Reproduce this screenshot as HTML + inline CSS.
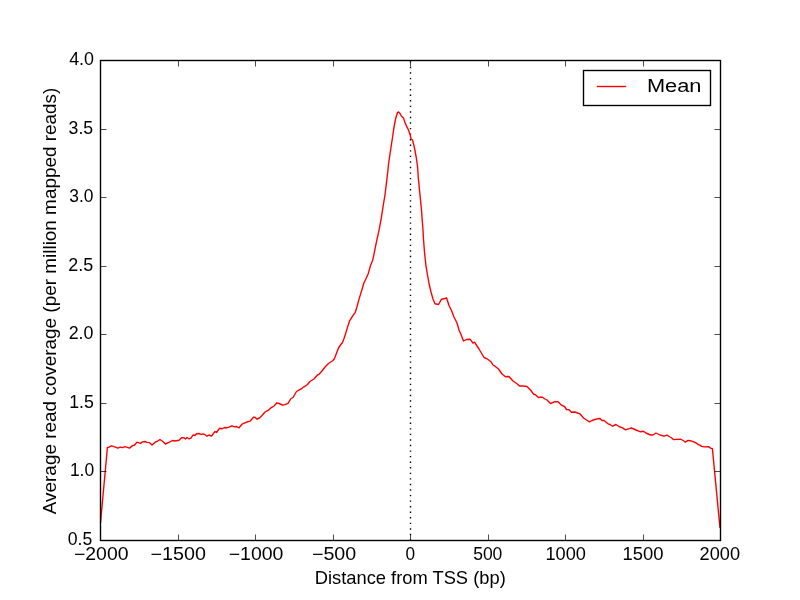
<!DOCTYPE html>
<html><head><meta charset="utf-8"><style>
html,body{margin:0;padding:0;background:#fff;}
svg{display:block;will-change:transform;}
text{font-family:"Liberation Sans",sans-serif;fill:#000;}
</style></head><body>
<svg width="800" height="600" viewBox="0 0 800 600">
<rect width="800" height="600" fill="#fff"/>
<line x1="410.5" y1="60.5" x2="410.5" y2="540.5" stroke="#000" stroke-width="1.39" stroke-dasharray="1.39,4.17" stroke-dashoffset="-0.7"/>
<polyline points="100.5,523 107.4,447.5 108.5,447.4 111.5,445.9 114.1,446.6 117.9,448.1 120.1,447.1 122.4,447.7 125,446.6 129.5,448.1 132.5,445.6 134.4,445.25 137,442.1 140.4,443.4 142.6,441.9 144.9,441.5 147.1,442.4 149.4,442.6 152,445.1 155.8,441.7 157,441.5 160,439.5 162.5,441.2 165.5,444 169,442.3 172.5,440.5 175,441 179,440.2 181.5,437.8 184,437.8 185.5,439 187,437.5 189,438.8 191,438.2 193,435 195,435.5 196.5,433.7 199,433.5 201,434.3 203,433.8 205,434.7 207,436.2 209,435 211.5,436.2 215,431.5 216.5,432.5 219.5,428.3 222,428.8 224.5,427.5 226,428 229,427.2 232,425.8 234.5,426.8 236.5,426.5 239,427.8 242.5,423.8 245,422.8 247,422 250,421.2 253.5,417.2 255,417.2 257,419.2 259.5,418 262,415.5 265,412 268.5,410.2 271,407.8 274,406 277,402.8 279,403.5 282.5,405 285,404.6 288,403.3 291,398.5 293,397.5 296.5,391.5 299,390.2 302,388.3 304,386.8 307.5,384.5 310,381.5 314,379 317.5,375 319,374.3 321.5,371.5 325.5,366.5 328.5,363.5 333,360.5 334.5,358.5 336,354.5 338.5,348 340.5,345 342.5,342.5 344,338.5 345.5,334 347.1,328.6 349.6,320.8 352.7,315.9 355.3,312.3 357,306.7 359.1,298.9 361.5,291.1 363.8,283.3 366.2,278.3 368.3,273.4 370.5,265.6 372.6,260.6 374,254.2 376.4,242.1 379.2,229.4 381.3,218.1 383,206.8 384.9,195.5 386.3,184.1 387.4,175 388.75,162.5 390.6,150 392.5,137.5 393.75,128.75 395.6,118.75 397.5,112.5 398.5,111.9 400,113.5 401.5,116.25 403.5,118.1 405,122.5 406.9,126.9 408.5,130 410,134.4 411,138.75 412.5,140 414.4,147.5 416.25,157.5 417.5,166.25 418.5,180 419.5,190 420.5,200 421.5,210 422.2,220 423,230 423.5,239.2 424.6,253.3 426,266.1 427.7,276 429.2,284.5 431,292 433,299 435,303.8 438.5,304.5 441.5,299.2 444,298.8 446.5,297.8 449,305.5 451.5,310.5 454,317 457,323 459,330 461,334.5 463.5,341 466.5,339.5 470,339.2 473,343.2 474.5,342.2 479,349 484,357.5 487,358.8 491,361.8 493,365 495,366.2 498.5,369 502,374 505.5,376.8 509,376.5 513,381 517,383.8 519.5,386 523,386 527,386.5 530.5,390 533.5,394 536,395.2 538.5,397.5 542,397 545,399 547,400 550.5,403.5 554.5,401.8 558,401.8 561.5,405.2 564.5,406.5 566.5,409.5 569,409.8 571.5,412.2 575,412 577.5,413 580,413.8 583.5,418 586.5,420 589.5,421.8 592,420.5 595,419.5 597.5,418.8 600,418.5 602,420.5 604,420.5 608,423.8 610,424.5 612.5,426.2 616,424.5 619,426.5 622.5,427.8 625.5,429.8 628.5,428.8 631.5,428 636,430 640.5,431.8 643.5,431.3 646,433 650.5,435 653,435 656,433 660,435 664,436.2 667,435.2 670,437 671.5,437.75 673.4,439.6 676.75,439.4 680.9,439.25 683.5,440.75 685.4,442.1 688,440.4 690.25,440.75 693.25,441.65 696.25,443 698.1,444.5 700,445.1 701.5,446.4 704.5,446.9 708.6,446.6 710.5,448.1 712.4,448.6 720,528" fill="none" stroke="#f00" stroke-width="1.39" stroke-linejoin="round"/>
<path d="M100.5,540.5v-6M100.5,60.5v6M178.5,540.5v-6M178.5,60.5v6M255.5,540.5v-6M255.5,60.5v6M333.5,540.5v-6M333.5,60.5v6M410.5,540.5v-6M410.5,60.5v6M488.5,540.5v-6M488.5,60.5v6M565.5,540.5v-6M565.5,60.5v6M643.5,540.5v-6M643.5,60.5v6M720.5,540.5v-6M720.5,60.5v6M100.5,540.5h6M720.5,540.5h-6M100.5,471.5h6M720.5,471.5h-6M100.5,403.5h6M720.5,403.5h-6M100.5,334.5h6M720.5,334.5h-6M100.5,266.5h6M720.5,266.5h-6M100.5,197.5h6M720.5,197.5h-6M100.5,129.5h6M720.5,129.5h-6M100.5,60.5h6M720.5,60.5h-6" stroke="#000" stroke-width="0.7" fill="none"/>
<rect x="100.5" y="60.5" width="620.0" height="480.0" fill="none" stroke="#000" stroke-width="1.39"/>
<rect x="583.5" y="70.5" width="127" height="35" fill="#fff" stroke="#000" stroke-width="1.39"/>
<line x1="596.8" y1="86.5" x2="626.2" y2="86.5" stroke="#f00" stroke-width="1.39"/>
<text transform="translate(101.23,560.00) scale(1.1092,1)" font-size="17.5" text-anchor="middle">−2000</text>
<text transform="translate(178.25,560.00) scale(1.1279,1)" font-size="17.5" text-anchor="middle">−1500</text>
<text transform="translate(256.08,560.00) scale(1.1120,1)" font-size="17.5" text-anchor="middle">−1000</text>
<text transform="translate(334.04,560.00) scale(1.1237,1)" font-size="17.5" text-anchor="middle">−500</text>
<text transform="translate(410.35,560.00) scale(0.9850,1)" font-size="17.5" text-anchor="middle">0</text>
<text transform="translate(487.75,560.00) scale(1.0009,1)" font-size="17.5" text-anchor="middle">500</text>
<text transform="translate(565.67,560.00) scale(1.0385,1)" font-size="17.5" text-anchor="middle">1000</text>
<text transform="translate(642.92,560.00) scale(1.0534,1)" font-size="17.5" text-anchor="middle">1500</text>
<text transform="translate(719.78,560.00) scale(1.0381,1)" font-size="17.5" text-anchor="middle">2000</text>
<text transform="translate(80.04,545.00) scale(1.0100,1)" font-size="17.5" text-anchor="middle">0.5</text>
<text transform="translate(82.02,476.00) scale(0.9984,1)" font-size="17.5" text-anchor="middle">1.0</text>
<text transform="translate(81.58,408.00) scale(1.0150,1)" font-size="17.5" text-anchor="middle">1.5</text>
<text transform="translate(81.04,339.00) scale(1.0190,1)" font-size="17.5" text-anchor="middle">2.0</text>
<text transform="translate(80.64,271.00) scale(1.0250,1)" font-size="17.5" text-anchor="middle">2.5</text>
<text transform="translate(81.36,202.00) scale(0.9933,1)" font-size="17.5" text-anchor="middle">3.0</text>
<text transform="translate(80.83,134.00) scale(1.0100,1)" font-size="17.5" text-anchor="middle">3.5</text>
<text transform="translate(81.58,65.00) scale(1.0233,1)" font-size="17.5" text-anchor="middle">4.0</text>
<text transform="translate(410.23,584.00) scale(1.0471,1)" font-size="17.5" text-anchor="middle">Distance from TSS (bp)</text>
<text transform="translate(56.00,300.92) rotate(-90) scale(1.0813,1)" font-size="17.5" text-anchor="middle">Average read coverage (per million mapped reads)</text>
<text transform="translate(674.22,92.00) scale(1.1782,1)" font-size="18.5" text-anchor="middle">Mean</text>
</svg>
</body></html>
